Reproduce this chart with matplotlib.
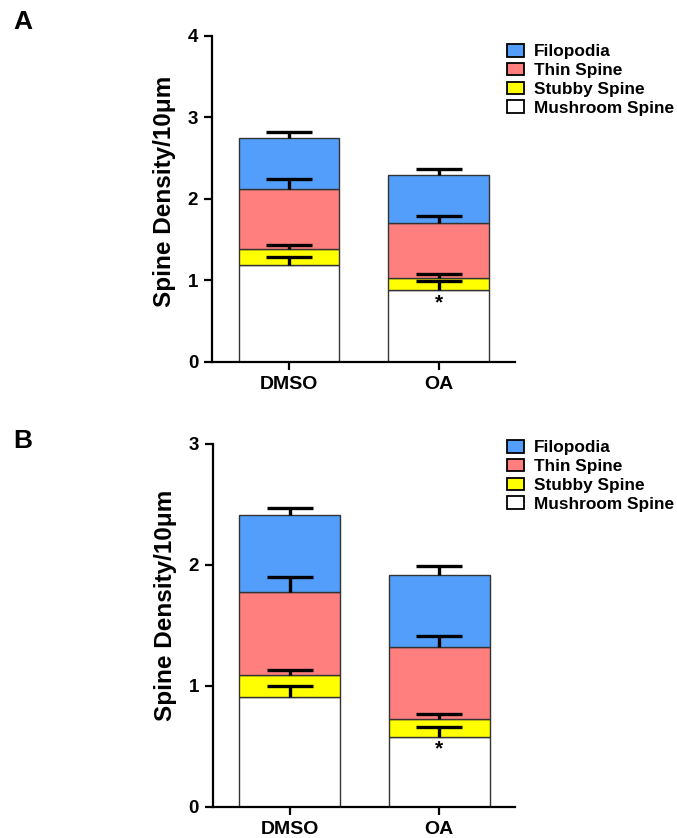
import numpy as np
import matplotlib.pyplot as plt
from matplotlib.patches import Patch

plt.rcParams['font.family'] = ['Liberation Sans', 'DejaVu Sans']
plt.rcParams['font.weight'] = 'bold'

groups = ['DMSO', 'OA']
layers = ['Mushroom Spine', 'Stubby Spine', 'Thin Spine', 'Filopodia']
colors = ['#FFFFFF', '#FFFF00', '#FF7F7F', '#529EFA']

# panel A: segment heights (DMSO, OA) and upward SEM
a_mushroom = [1.19, 0.88]
a_stubby = [0.19, 0.15]
a_thin = [0.74, 0.67]
a_filo = [0.63, 0.59]
a_err_mushroom = [0.09, 0.11]
a_err_stubby = [0.05, 0.04]
a_err_thin = [0.12, 0.09]
a_err_filo = [0.07, 0.07]

# panel B
b_mushroom = [0.91, 0.58]
b_stubby = [0.18, 0.15]
b_thin = [0.69, 0.59]
b_filo = [0.63, 0.60]
b_err_mushroom = [0.09, 0.08]
b_err_stubby = [0.04, 0.04]
b_err_thin = [0.12, 0.09]
b_err_filo = [0.06, 0.07]


def draw_panel(ax, segs, errs, ymax, star_y, leg_top, label_y):
    x = np.arange(len(groups))
    bottom = np.zeros(len(groups))
    for seg, err, col in zip(segs, errs, colors):
        seg = np.array(seg)
        ax.bar(x, seg, width=0.673, bottom=bottom, color=col,
               edgecolor='#333333', linewidth=1.0, zorder=2)
        top = bottom + seg
        eb = ax.errorbar(x, top, yerr=[np.zeros(len(x)), err], fmt='none',
                         ecolor='black', elinewidth=2.4, capsize=16.5,
                         capthick=2.4, zorder=3)
        eb[1][0].set_visible(False)  # upper error bars only
        bottom = top
    ax.text(1, star_y, '*', ha='center', va='center', fontsize=15,
            fontweight='bold', zorder=4)
    ax.set_xlim(-0.513, 1.507)
    ax.set_ylim(0, ymax)
    ax.set_yticks(range(ymax + 1))
    ax.set_xticks(x)
    ax.set_xticklabels(groups, fontsize=14, fontweight='bold')
    for lab in ax.get_yticklabels():
        lab.set_fontsize(13.5)
        lab.set_fontweight('bold')
    ax.set_ylabel('Spine Density/10μm', fontsize=17.5, fontweight='bold')
    ax.yaxis.set_label_coords(-0.12, label_y)
    for s in ['top', 'right']:
        ax.spines[s].set_visible(False)
    for s in ['left', 'bottom']:
        ax.spines[s].set_linewidth(1.6)
    ax.tick_params(width=1.6, length=6, direction='out', pad=4)

    handles = [Patch(facecolor=c, edgecolor='black', linewidth=1.3, label=l)
               for c, l in zip(colors[::-1], layers[::-1])]
    fig.legend(handles=handles, loc='upper left',
               bbox_to_anchor=(507 / 677, 1 - leg_top / 838),
               frameon=False, prop={'weight': 'bold', 'size': 12.4},
               handlelength=1.0, handleheight=0.75, handletextpad=0.55,
               labelspacing=0.2, borderpad=0, borderaxespad=0)


fig = plt.figure(figsize=(6.77, 8.38), dpi=100)
ax1 = fig.add_axes([0.3132, 0.5684, 0.4475, 0.389])
ax2 = fig.add_axes([0.3146, 0.0370, 0.4461, 0.4332])

draw_panel(ax1, [a_mushroom, a_stubby, a_thin, a_filo],
           [a_err_mushroom, a_err_stubby, a_err_thin, a_err_filo], 4, 0.72,
           44, 0.523)
draw_panel(ax2, [b_mushroom, b_stubby, b_thin, b_filo],
           [b_err_mushroom, b_err_stubby, b_err_thin, b_err_filo], 3, 0.48,
           440, 0.555)

fig.text(0.019, 0.974, 'A', fontsize=19, fontweight='bold', va='center')
fig.text(0.019, 0.474, 'B', fontsize=19, fontweight='bold', va='center')

fig.savefig('out.png', dpi=100)
